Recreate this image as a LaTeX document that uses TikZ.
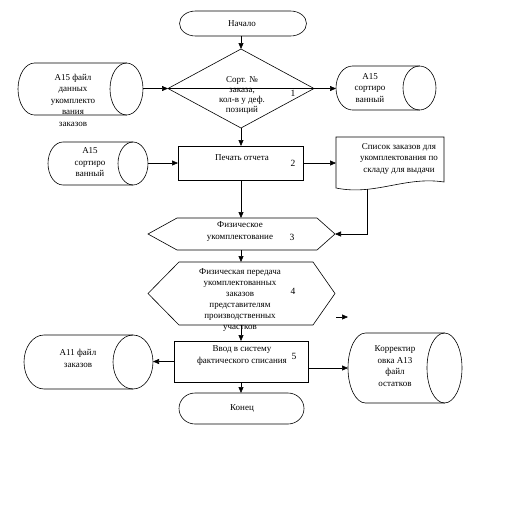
\documentclass[tikz,border=0pt]{standalone}
\usepackage{fontspec}
\setmainfont{Liberation Serif}
\usetikzlibrary{arrows.meta,shapes.geometric,calc}
\newcommand\cylshape[3]{%
  \draw ($(#1.north east)+(-#2,0)$) -- ($(#1.north west)+(#2,0)$)
    arc[start angle=90,end angle=270,x radius=#2pt,y radius=#3pt]
    -- ($(#1.south east)+(-#2,0)$);
  \draw ($(#1.east)+(-#2,0)$) ellipse[x radius=#2pt,y radius=#3pt];}
\newcommand\termshape[3]{%
  \draw ($(#1.north west)+(#2,0)$) -- ($(#1.north east)+(-#2,0)$)
    arc[start angle=90,end angle=-90,x radius=#2pt,y radius=#3pt]
    -- ($(#1.south west)+(#2,0)$)
    arc[start angle=270,end angle=90,x radius=#2pt,y radius=#3pt] -- cycle;}
\newcommand\hexshape[3]{%
  \draw (#1.west) -- ($(#1.north west)+(#2,0)$) -- ($(#1.north east)+(-#3,0)$)
    -- (#1.east) -- ($(#1.south east)+(-#3,0)$) -- ($(#1.south west)+(#2,0)$) -- cycle;}
\begin{document}
\begin{tikzpicture}[x=1pt,y=-1pt,line width=0.6pt,
  arr/.style={-{Triangle[length=6pt,width=5pt]}},
  txt/.style={font=\fontsize{9}{11.5}\selectfont,align=center,inner sep=0pt},
  num/.style={font=\fontsize{9.5}{11}\selectfont,inner sep=0pt},
  area/.style={draw=none,rectangle,inner sep=0pt,outer sep=0pt},
  boxx/.style={draw,rectangle,inner sep=0pt,outer sep=0pt}]
\useasboundingbox (0,0) rectangle (511,515);
% shapes
\node[area,minimum width=127pt,minimum height=25pt] (start) at (243,23.5) {};
\termshape{start}{16}{12.5}
\node[diamond,draw,inner sep=0pt,outer sep=0pt,minimum width=146pt,minimum height=79pt] (dia) at (241,88.5) {};
\node[area,minimum width=125pt,minimum height=52pt] (cA) at (80.5,89) {};
\cylshape{cA}{16.5}{26}
\node[area,minimum width=100pt,minimum height=44pt] (cB) at (386,88) {};
\cylshape{cB}{16.5}{22}
\node[area,minimum width=100pt,minimum height=43pt] (cC) at (98,163.5) {};
\cylshape{cC}{15}{21.5}
\node[boxx,minimum width=125pt,minimum height=34pt] (b2) at (240.5,163) {};
\node[area,minimum width=108pt,minimum height=52pt] (doc) at (390,163) {};
\draw (doc.north west) -- (doc.north east) -- (444,182)
  .. controls (405,176) and (375,196) .. (336,188) -- cycle;
\node[area,minimum width=187pt,minimum height=32pt] (h3) at (241.5,234) {};
\hexshape{h3}{29}{18}
\node[area,minimum width=187pt,minimum height=63pt] (h4) at (241.5,293.5) {};
\hexshape{h4}{31}{22}
\node[boxx,minimum width=134pt,minimum height=41pt] (b5) at (241,361.5) {};
\node[area,minimum width=129pt,minimum height=54pt] (cD) at (88.5,362) {};
\cylshape{cD}{20}{27}
\node[area,minimum width=114pt,minimum height=70pt] (cE) at (405,368) {};
\cylshape{cE}{17.5}{35}
\node[area,minimum width=125pt,minimum height=31pt] (stop) at (241.5,408.5) {};
\termshape{stop}{16}{15.5}
% texts
\node[txt] (tstart) at (242,24) {Начало};
\node[txt,font=\fontsize{9}{10}\selectfont] (tdia) at (242,95) {Сорт. №\\заказа,\\кол-в у деф.\\позиций};
\node[num] (n1) at (293,93) {1};
\node[txt] (tA) at (73,100) {A15 файл\\данных\\укомплекто\\вания\\заказов};
\node[txt] (tB) at (370,88) {A15\\сортиро\\ванный};
\node[txt] (tC) at (90,162.5) {A15\\сортиро\\ванный};
\node[txt] (t2) at (242,158) {Печать отчета};
\node[num] (n2) at (293,163) {2};
\node[txt] (tdoc) at (399,158.5) {Список заказов для\\укомплектования по\\складу для выдачи};
\node[txt] (t3) at (240,231.5) {Физическое\\укомплектование};
\node[num] (n3) at (292,237) {3};
\node[txt,font=\fontsize{9}{11}\selectfont] (t4) at (240,300) {Физическая передача\\укомплектованных\\заказов\\представителям\\производственных\\участков};
\node[num] (n4) at (293,291) {4};
\node[txt,font=\fontsize{9}{12}\selectfont] (t5) at (242,356) {Ввод в систему\\фактического списания};
\node[num] (n5) at (294,356) {5};
\node[txt] (tD) at (78,358.5) {A11 файл\\заказов};
\node[txt] (tE) at (395,366) {Корректир\\овка A13\\файл\\остатков};
\node[txt] (tstop) at (242,408) {Конец};
% connectors
\draw[arr] (start.south -| dia.north) -- (dia.north);
\draw[arr] (cA.east |- dia.west) -- (dia.west);
\draw[arr] (dia.west) -- (dia.west -| cB.west);
\draw[arr] (dia.south) -- (dia.south |- b2.north);
\draw[arr] (cC.east |- b2.west) -- (b2.west);
\draw[arr] (b2.east) -- (b2.east -| doc.west);
\draw[arr] (dia.south |- b2.south) -- (dia.south |- h3.north);
\coordinate (docout) at (367,189);
\draw[arr] (docout) |- (h3.east);
\draw[arr] (dia.south |- h3.south) -- (dia.south |- h4.north);
\draw[arr] (dia.south |- h4.south) -- (dia.south |- b5.north);
\draw[arr] (b5.west) -- (b5.west -| cD.east);
\draw[arr] (b5.east |- cE.west) -- (cE.west);
\draw[arr] (dia.south |- b5.south) -- (dia.south |- stop.north);
\coordinate (s1) at (336,317);
\coordinate (s2) at (348,317);
\draw[arr] (s1) -- (s2);
\end{tikzpicture}
\end{document}
